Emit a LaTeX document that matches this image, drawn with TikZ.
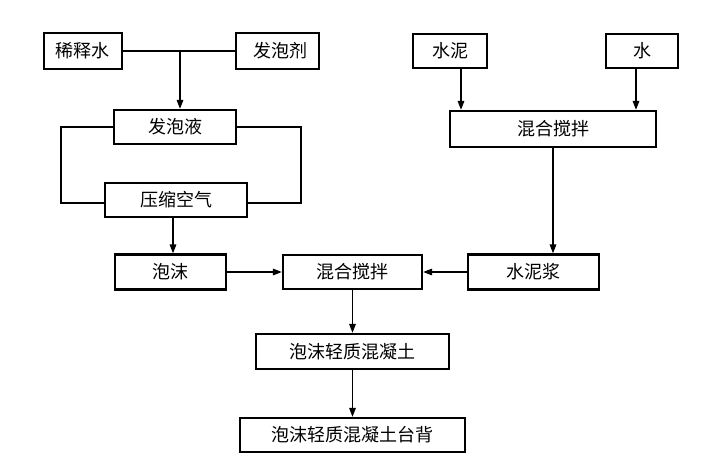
\documentclass[tikz,border=0pt]{standalone}
\usepackage{fontspec}
\newfontfamily\cjk{Noto Sans CJK SC}
\usetikzlibrary{arrows.meta}
\begin{document}
\begin{tikzpicture}[x=1pt,y=-1pt,
  box/.style={draw, line width=2.2pt, inner sep=0pt, font=\cjk\fontsize{18}{20}\selectfont},
  ln/.style={line width=1.8pt},
  arr/.style={line width=1.5pt, -{Triangle[length=9pt,width=6.5pt]}}]
\useasboundingbox (0,0) rectangle (721,464);
% left top
\node[box, minimum width=78, minimum height=36] (xishi) at (83,51) {稀释水};
\node[box, minimum width=83, minimum height=36] (fapaoji) at (277.5,51) {\hspace{6pt}发泡剂};
\node[box, minimum width=122, minimum height=34] (fapaoye) at (175,127) {发泡液};
\node[box, minimum width=142, minimum height=34] (yasuo) at (176,200) {压缩空气};
\node[box, minimum width=111, minimum height=35] (paomo) at (170.5,272) {泡沫};
\node[box, minimum width=139, minimum height=34] (mix2) at (352.5,272) {混合搅拌};
\node[box, minimum width=131, minimum height=35] (jiang) at (533.5,272) {水泥浆};
\node[box, minimum width=193, minimum height=35] (hnt) at (352.5,351.5) {泡沫轻质混凝土};
\node[box, minimum width=225, minimum height=34] (taibei) at (352.5,435) {泡沫轻质混凝土台背};
% right top
\node[box, minimum width=74, minimum height=34] (shuini) at (450,51) {水泥};
\node[box, minimum width=72, minimum height=34] (shui) at (642,51) {水};
\node[box, minimum width=206, minimum height=36] (mix1) at (553,129) {混合搅拌};
% coordinates
\coordinate (j1) at (180,51);
\coordinate (lx) at (61,160);
\coordinate (rx) at (301,160);
% connectors
\draw[ln] (xishi.east) -- (fapaoji.west);
\draw[arr] (j1) -- (j1 |- fapaoye.north);
\draw[ln] (fapaoye.west) -| (lx) |- ([yshift=-3]yasuo.west);
\draw[ln] (fapaoye.east) -| (rx) |- ([yshift=-3]yasuo.east);
\draw[arr] ([xshift=-3]yasuo.south) -- ([xshift=-3]yasuo.south |- paomo.north);
\draw[arr] (paomo.east) -- (mix2.west);
\draw[arr] (jiang.west) -- (mix2.east);
\draw[arr] (mix2.south) -- (hnt.north);
\draw[arr] (hnt.south) -- (taibei.north);
\draw[arr] ([xshift=11]shuini.south) -- ([xshift=11]shuini.south |- mix1.north);
\draw[arr] ([xshift=-6]shui.south) -- ([xshift=-6]shui.south |- mix1.north);
\draw[arr] (mix1.south) -- (mix1.south |- jiang.north);
\end{tikzpicture}
\end{document}
